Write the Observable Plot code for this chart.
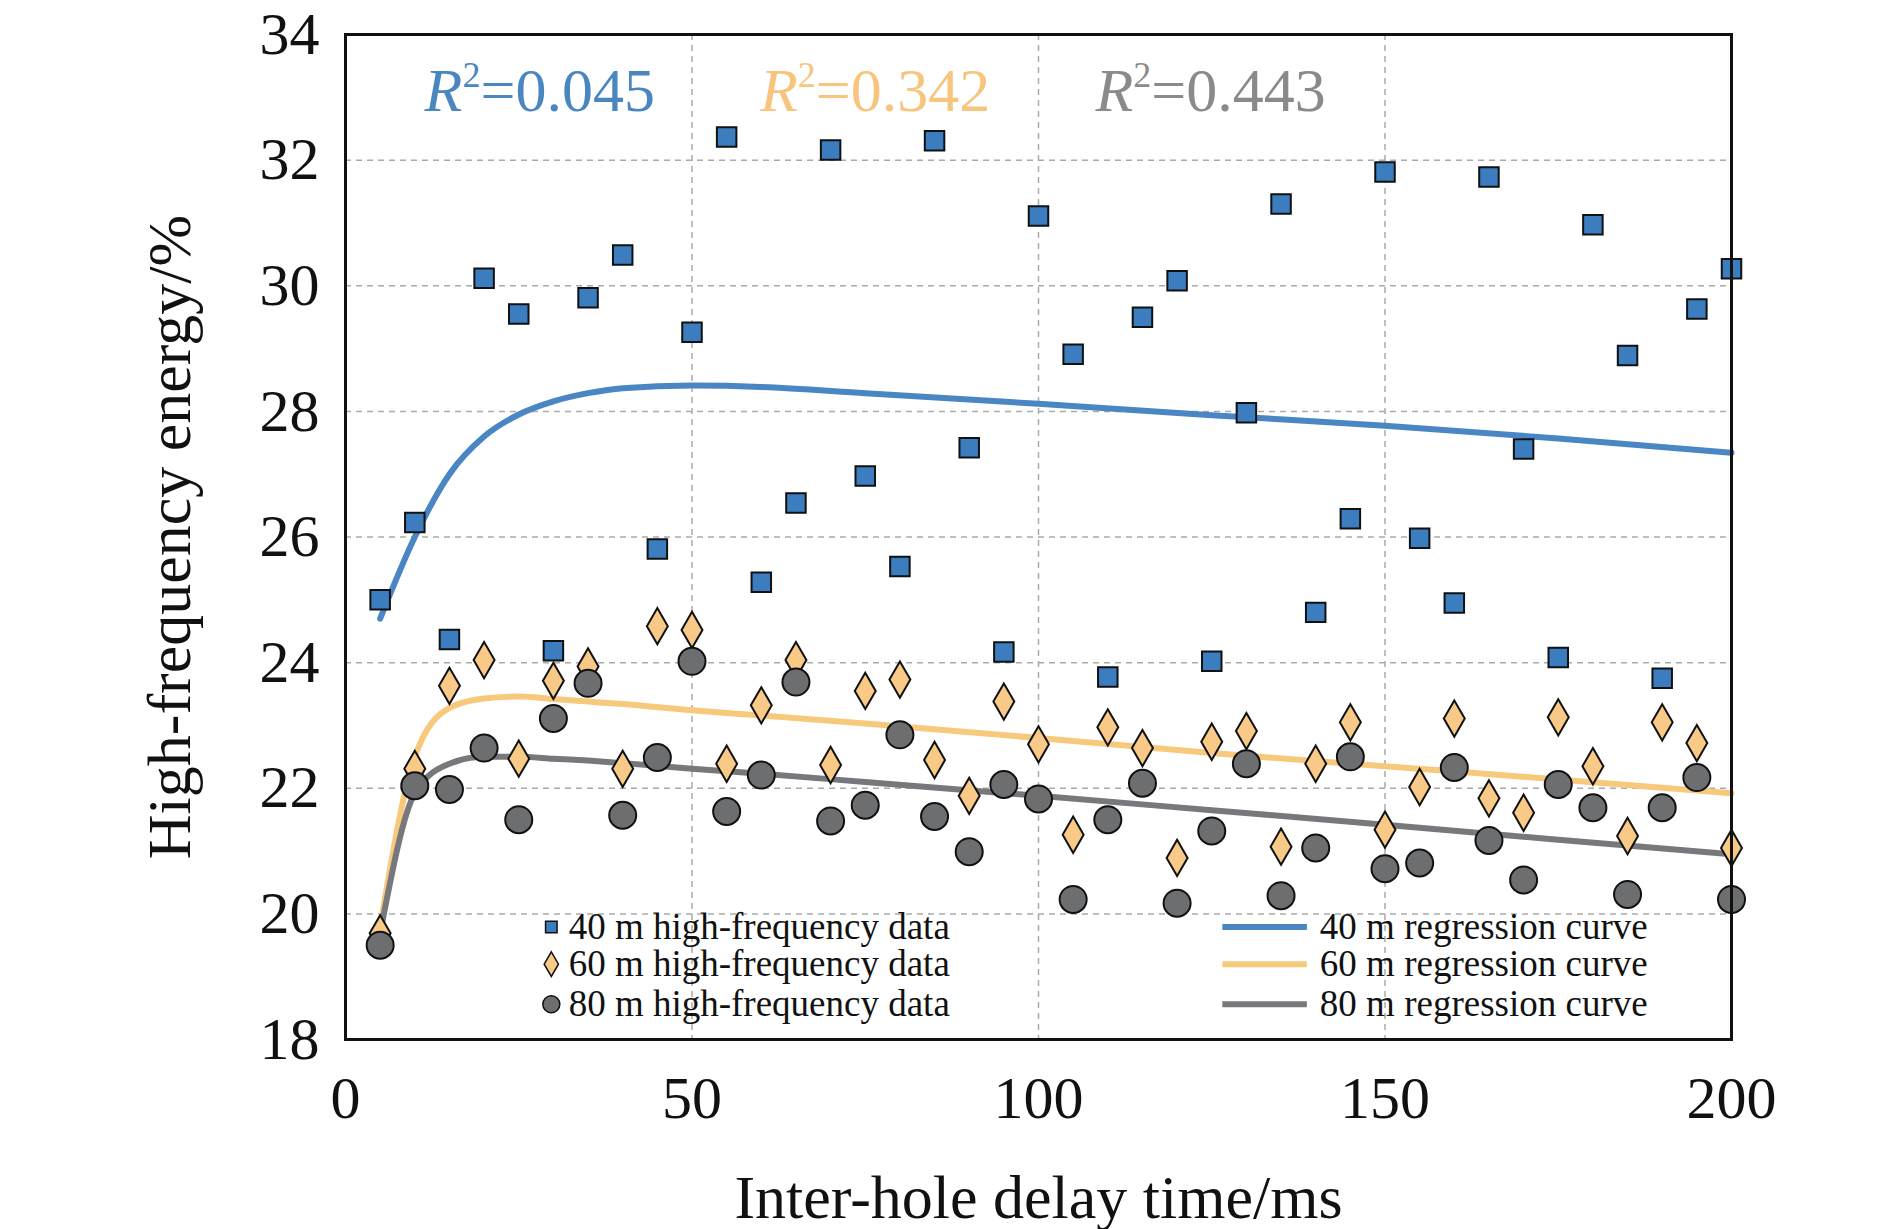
<!DOCTYPE html>
<html><head><meta charset="utf-8">
<script src="https://cdn.jsdelivr.net/npm/d3@7"></script>
<script src="https://cdn.jsdelivr.net/npm/@observablehq/plot@0.6"></script>
<style>body{margin:0;background:#fff}</style>
</head><body><div id="c"></div>
<script>
const delays = d3.range(5, 201, 5);
const hf40 = [25.0,26.23,24.37,30.12,29.55,24.19,29.81,30.49,25.81,29.26,32.37,25.28,26.54,32.16,26.97,25.53,32.31,27.42,24.17,31.11,28.91,23.77,29.5,30.08,24.02,27.98,31.30,24.80,26.29,31.81,25.98,24.95,31.73,27.40,24.08,30.97,28.89,23.75,29.63,30.27];
const hf60 = [19.69,22.31,23.63,24.04,22.47,23.71,23.94,22.31,24.58,24.52,22.39,23.32,24.04,22.37,23.55,23.73,22.45,21.88,23.38,22.70,21.26,22.97,22.64,20.89,22.74,22.91,21.07,22.39,23.05,21.34,22.02,23.11,21.84,21.61,23.13,22.35,21.24,23.05,22.72,21.05];
const hf80 = [19.50,22.04,21.98,22.64,21.50,23.11,23.67,21.57,22.49,24.02,21.63,22.21,23.69,21.48,21.73,22.85,21.55,20.99,22.06,21.83,20.23,21.50,22.08,20.17,21.32,22.39,20.29,21.05,22.50,20.72,20.81,22.33,21.17,20.54,22.06,21.69,20.31,21.69,22.17,20.23];
const curveX = [5,10,15,20,25,30,35,40,50,60,75,100,125,150,175,200];
const reg40 = [24.70,26.0,27.0,27.6,27.95,28.16,28.29,28.37,28.41,28.39,28.29,28.12,27.94,27.77,27.57,27.34];
const reg60 = [19.79,22.5,23.28,23.43,23.46,23.42,23.38,23.34,23.24,23.16,23.03,22.80,22.56,22.35,22.14,21.92];
const reg80 = [19.69,21.92,22.39,22.50,22.50,22.47,22.44,22.40,22.31,22.23,22.10,21.88,21.65,21.42,21.18,20.95];
const r2Labels = ["0.045","0.342","0.443"];
const r2X = [28.1,76.5,124.9];
const colors = {b:"#3c7dbf", bl:"#4a86c4", o:"#f8c987", ol:"#f7c97c", g:"#6d6e70", gl:"#77787b"};
const r2Colors = ["#4a86c0","#f7c57e","#8a8a8a"];
const legendPts = ["40 m high-frequency data","60 m high-frequency data","80 m high-frequency data"];
const legendLines = ["40 m regression curve","60 m regression curve","80 m regression curve"];
const legendY = [19.79,19.2,18.56];

const pts = (arr) => delays.map((x,i)=>({x, y:arr[i]}));
const crv = (arr) => curveX.map((x,i)=>({x, y:arr[i]}));
const font = "Liberation Serif, Times New Roman, serif";

const chart = Plot.plot({
  width: 1890, height: 1229,
  marginLeft: 345, marginRight: 159, marginTop: 34, marginBottom: 190,
  style: {fontFamily: font, fontSize: "60px", color: "#111", background: "#fff"},
  x: {domain: [0,200], ticks: [0,50,100,150,200], tickSize: 0, tickPadding: 36, label: "Inter-hole delay time/ms", labelAnchor: "center", labelArrow: "none", labelOffset: 178},
  y: {domain: [18,34], ticks: d3.range(18,35,2), tickSize: 0, tickPadding: 26, label: "High-frequency energy/%", labelAnchor: "center", labelArrow: "none", labelOffset: 200},
  marks: [
    Plot.gridX([50,100,150], {stroke:"#aaa", strokeOpacity:1, strokeDasharray:"6,5", strokeWidth:1.5}),
    Plot.gridY(d3.range(20,33,2), {stroke:"#aaa", strokeOpacity:1, strokeDasharray:"6,5", strokeWidth:1.5}),
    Plot.line(crv(reg40), {x:"x", y:"y", stroke:colors.bl, strokeWidth:6, curve:"monotone-x"}),
    Plot.line(crv(reg60), {x:"x", y:"y", stroke:colors.ol, strokeWidth:6, curve:"monotone-x"}),
    Plot.line(crv(reg80), {x:"x", y:"y", stroke:colors.gl, strokeWidth:6, curve:"monotone-x"}),
    Plot.dot(pts(hf60), {x:"x", y:"y", symbol:"diamond", r:11, fill:colors.o, stroke:"#111", strokeWidth:2}),
    Plot.dot(pts(hf80), {x:"x", y:"y", symbol:"circle", r:13.5, fill:colors.g, stroke:"#111", strokeWidth:2}),
    Plot.dot(pts(hf40), {x:"x", y:"y", symbol:"square", r:11, fill:colors.b, stroke:"#111", strokeWidth:2}),
    Plot.dot([{x:29.7,y:legendY[0]}], {x:"x", y:"y", symbol:"square", r:6.5, fill:colors.b, stroke:"#111", strokeWidth:1.5}),
    Plot.dot([{x:29.7,y:legendY[1]}], {x:"x", y:"y", symbol:"diamond", r:7.5, fill:colors.o, stroke:"#111", strokeWidth:1.5}),
    Plot.dot([{x:29.7,y:legendY[2]}], {x:"x", y:"y", symbol:"circle", r:8.5, fill:colors.g, stroke:"#111", strokeWidth:1.5}),
    Plot.text(legendPts.map((t,i)=>({t,y:legendY[i]})), {x:32.2, y:"y", text:"t", textAnchor:"start", fontSize:37, fill:"#111"}),
    Plot.ruleY([{y:legendY[0],c:colors.bl},{y:legendY[1],c:colors.ol},{y:legendY[2],c:colors.gl}], {y:"y", x1:126.6, x2:138.8, stroke:"c", strokeWidth:6}),
    Plot.text(legendLines.map((t,i)=>({t,y:legendY[i]})), {x:140.6, y:"y", text:"t", textAnchor:"start", fontSize:37, fill:"#111"}),
    Plot.frame({stroke:"#111", strokeWidth:3})
  ]
});
const svg = d3.select(chart);
const xs = d3.scaleLinear([0,200],[345,1731]);
const ys = d3.scaleLinear([18,34],[1039,34]);
r2Labels.forEach((v,i)=>{
  const t = svg.append("text").attr("x", xs(r2X[i])).attr("y", ys(33.09)+20)
    .attr("text-anchor","middle").attr("font-family",font).attr("font-size",62).attr("fill",r2Colors[i]);
  t.append("tspan").attr("font-style","italic").text("R");
  t.append("tspan").attr("font-size",36).attr("dy",-24).text("2");
  t.append("tspan").attr("dy",24).text("="+v);
});
svg.selectAll("[aria-label='y-axis label'] text, [aria-label='x-axis label'] text").attr("font-size",62);
document.getElementById("c").appendChild(chart);
</script></body></html>
